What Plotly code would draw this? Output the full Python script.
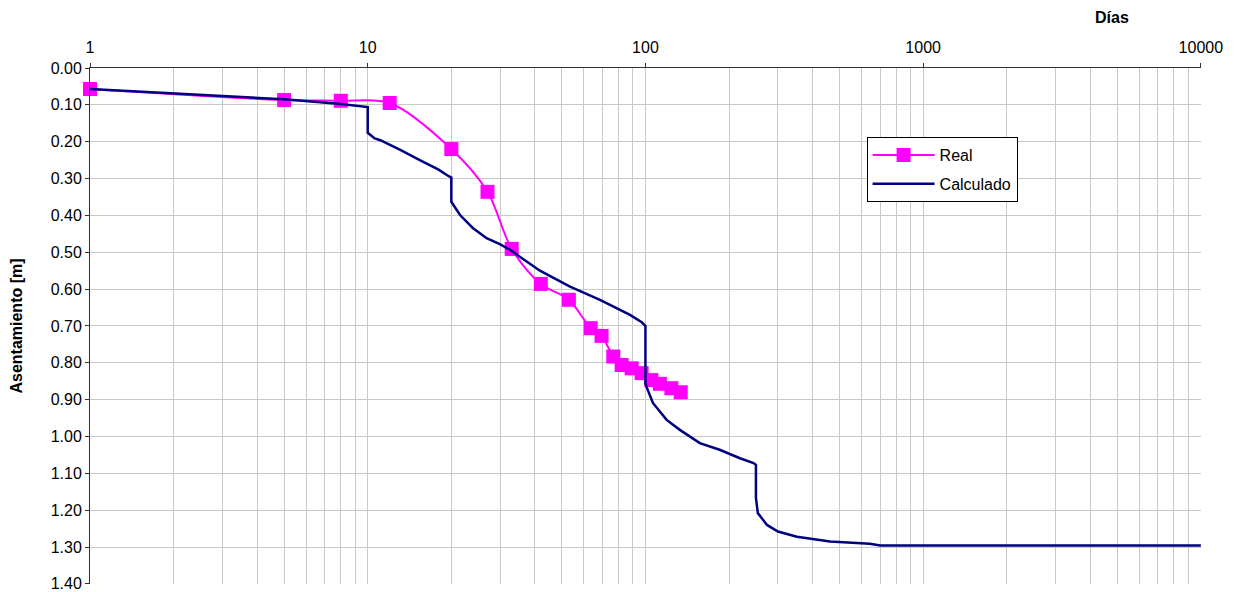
import plotly.graph_objects as go

# Real (measured) settlement
real_days = [1, 5, 8, 12, 20, 27, 33, 42, 53, 63.5, 69.5, 76.6, 82.1, 89.2, 96.9, 105, 112.7, 124, 134]
real_settle = [0.057, 0.087, 0.089, 0.095, 0.22, 0.336, 0.491, 0.586, 0.629, 0.706, 0.727, 0.783,
               0.806, 0.815, 0.828, 0.847, 0.857, 0.869, 0.880]

# Calculated settlement
calc_days = [1, 5, 8, 10, 10, 10.6, 11.1, 13.1, 15.4, 18, 19.5, 20, 20, 21.5, 23.9, 26.8, 29.9, 32.8,
             35.3, 41.7, 53.5, 68.6, 88, 97, 100, 100, 101, 106.4, 119.2, 133, 157, 185, 219, 245,
             250, 250, 254, 274, 300, 351, 462, 643, 700, 10000]
calc_settle = [0.057, 0.085, 0.098, 0.106, 0.176, 0.191, 0.196, 0.222, 0.25, 0.276, 0.293, 0.297, 0.363,
               0.399, 0.434, 0.462, 0.478, 0.495, 0.512, 0.55, 0.593, 0.629, 0.67, 0.69, 0.70, 0.856,
               0.866, 0.909, 0.955, 0.982, 1.018, 1.036, 1.059, 1.072, 1.077, 1.167, 1.208, 1.24,
               1.258, 1.272, 1.285, 1.291, 1.296, 1.296]

major_x = [1, 10, 100, 1000, 10000]
major_x_text = ["1", "10", "100", "1000", "10000"]
minor_x = [m * 10 ** d for d in range(4) for m in range(2, 10)]
y_ticks = [round(0.1 * i, 2) for i in range(15)]

fig = go.Figure()
fig.add_trace(go.Scatter(
    x=real_days, y=real_settle, name="Real", mode="lines+markers", legendgroup="a",
    line=dict(color="#FF00FF", width=2, shape="spline", smoothing=0.9),
    marker=dict(symbol="square", size=14, color="#FF00FF"),
    cliponaxis=False,
))
fig.add_trace(go.Scatter(
    x=calc_days, y=calc_settle, name="Calculado", mode="lines", legendgroup="b",
    line=dict(color="#000080", width=2.5),
))

font = "Liberation Sans, Arial, sans-serif"
fig.update_layout(
    width=1236, height=592,
    margin=dict(l=90, r=35, t=68, b=8),
    paper_bgcolor="white", plot_bgcolor="white",
    font=dict(family=font, size=16, color="black"),
    showlegend=True,
    legend=dict(x=0.699, y=0.866, xanchor="left", yanchor="top",
                bgcolor="white", bordercolor="black", borderwidth=1,
                font=dict(size=16, family=font), tracegroupgap=5, itemwidth=62),
    annotations=[dict(text="<b>Días</b>", x=3.68, xref="x", y=1.0, yref="paper",
                      yshift=51, showarrow=False, font=dict(size=16, family=font),
                      xanchor="center", yanchor="middle")],
)

fig.update_xaxes(
    type="log", side="top", range=[0, 4.0005], automargin=False,
    tickvals=major_x, ticktext=major_x_text, ticklabelstandoff=4,
    showgrid=True, gridcolor="#C8C8C8", gridwidth=1,
    minor=dict(tickvals=minor_x, showgrid=True, gridcolor="#C8C8C8", gridwidth=1, ticks=""),
    showline=True, linecolor="#333333", linewidth=1,
    ticks="outside", ticklen=4, tickcolor="#333333",
    zeroline=False, ticklabeloverflow="allow",
)
fig.update_yaxes(
    range=[1.4003, 0], tickvals=y_ticks, tickformat=".2f", automargin=False,
    showgrid=True, gridcolor="#C8C8C8", gridwidth=1,
    showline=True, linecolor="#333333", linewidth=1,
    ticks="outside", ticklen=4, tickcolor="#333333",
    zeroline=False, ticklabeloverflow="allow",
    title=dict(text="<b>Asentamiento [m]</b>", font=dict(size=16, family=font), standoff=24),
)

fig.write_html("out.html", config={"displayModeBar": False},
               post_script="document.body.style.margin='0px';")
